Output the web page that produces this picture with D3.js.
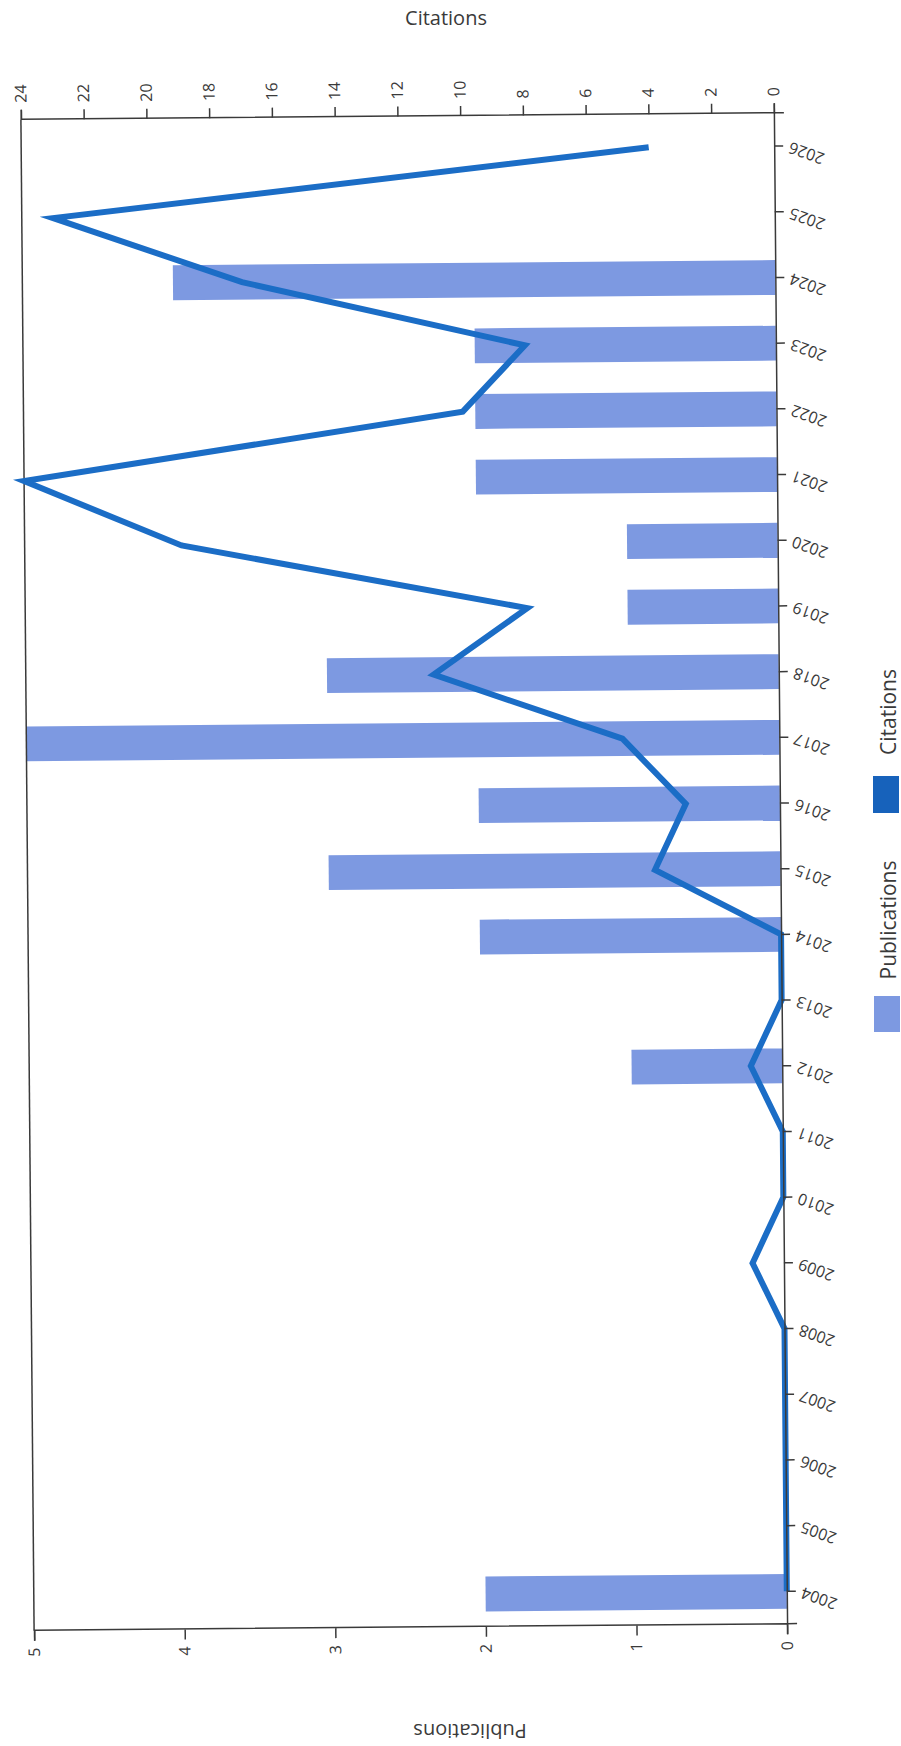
<!DOCTYPE html>
<html>
<head>
<meta charset="utf-8">
<script src="https://cdn.jsdelivr.net/npm/d3@7"></script>
<style>
  body { margin: 0; background: #ffffff; }
  svg { display: block; }
  text { font-family: "Open Sans", "Noto Sans", sans-serif; }
</style>
</head>
<body>
<svg id="chart" width="901" height="1746"></svg>
<script>
// ---- data ----
const years = [2004, 2005, 2006, 2007, 2008, 2009, 2010, 2011, 2012, 2013, 2014, 2015,
               2016, 2017, 2018, 2019, 2020, 2021, 2022, 2023, 2024, 2025, 2026];
const publications = [2, 0, 0, 0, 0, 0, 0, 0, 1, 0, 2, 3, 2, 5, 3, 1, 1, 2, 2, 2, 4, 0, 0];
const citations    = [0, 0, 0, 0, 0, 1, 0, 0, 1, 0, 0, 4, 3, 5, 11, 8, 19, 24, 10, 8, 17, 23, 4];
const pubTicks = [0, 1, 2, 3, 4, 5];
const citTicks = [0, 2, 4, 6, 8, 10, 12, 14, 16, 18, 20, 22, 24];
const seriesNames = ["Publications", "Citations"];

// ---- layout (chart is drawn normally, then turned a quarter turn) ----
const W = 1511, H = 753;
const cx = 404, cy = 872;
const barColor = "#7d99e1", lineColor = "#1b6dc6", swatchCit = "#1762bb";
const axisColor = "#3a3a3a", textColor = "#3a3a3a";

const svg = d3.select("#chart");
const g = svg.append("g")
  .attr("transform", `translate(${cx},${cy}) rotate(-90.5) translate(${-W / 2},${-H / 2})`);

const x = d3.scaleBand().domain(years).range([0, W]).paddingInner(0.47).paddingOuter(0.235);
const yP = d3.scaleLinear().domain([0, 5]).range([H, 0]);
const yC = d3.scaleLinear().domain([0, 24]).range([H, 0]);

// bars
const barData = years.map((yr, i) => ({ yr, v: publications[i] })).filter(d => d.v > 0);
g.selectAll("rect.bar").data(barData).join("rect")
  .attr("class", "bar")
  .attr("x", d => x(d.yr))
  .attr("width", x.bandwidth())
  .attr("y", d => yP(d.v))
  .attr("height", d => yP(0) - yP(d.v))
  .attr("fill", barColor);

// top border of the plot
g.append("line")
  .attr("x1", 0).attr("x2", W).attr("y1", 0).attr("y2", 0)
  .attr("stroke", axisColor).attr("stroke-width", 1.5);

// line
const line = d3.line()
  .x((d, i) => x(years[i]) + x.bandwidth() / 2)
  .y(d => yC(d));
g.append("path").datum(citations)
  .attr("d", line)
  .attr("fill", "none")
  .attr("stroke", lineColor)
  .attr("stroke-width", 6)
  .attr("stroke-linejoin", "miter")
  .attr("stroke-miterlimit", 10);

// axes
function styleAxis(sel) {
  sel.select(".domain").attr("stroke", axisColor).attr("stroke-width", 1.5);
  sel.selectAll(".tick line").attr("stroke", axisColor).attr("stroke-width", 1.5);
  sel.selectAll(".tick text").attr("fill", textColor).style("font-size", "16px")
     .style("font-family", '"Open Sans", "Noto Sans", sans-serif');
}

const xAxis = g.append("g").attr("transform", `translate(0,${H})`)
  .call(d3.axisBottom(x).tickSizeInner(9).tickSizeOuter(10));
styleAxis(xAxis);
xAxis.selectAll(".tick text")
  .attr("x", 0).attr("y", 0).attr("dy", "0.35em")
  .attr("text-anchor", "end")
  .attr("transform", "translate(-1,15) rotate(-70)");

const pAxis = g.append("g")
  .call(d3.axisLeft(yP).tickValues(pubTicks).tickSize(10).tickPadding(7).tickFormat(d3.format("d")));
styleAxis(pAxis);

const cAxis = g.append("g").attr("transform", `translate(${W},0)`)
  .call(d3.axisRight(yC).tickValues(citTicks).tickSize(10).tickPadding(7).tickFormat(d3.format("d")));
styleAxis(cAxis);

// axis titles (screen coordinates)
svg.append("text")
  .attr("x", 446).attr("y", 25)
  .attr("text-anchor", "middle")
  .attr("fill", textColor).style("font-size", "20px")
  .text(seriesNames[1]);

svg.append("text")
  .attr("text-anchor", "middle")
  .attr("dominant-baseline", "central")
  .attr("transform", "translate(470,1731) rotate(180)")
  .attr("fill", textColor).style("font-size", "20px")
  .text(seriesNames[0]);

// legend (screen coordinates)
const legend = svg.append("g");
legend.append("rect").attr("x", 874).attr("y", 996).attr("width", 26).attr("height", 36).attr("fill", barColor);
legend.append("text")
  .attr("text-anchor", "middle")
  .attr("transform", "translate(896,920) rotate(-90)")
  .attr("fill", textColor).style("font-size", "21px")
  .text(seriesNames[0]);
legend.append("rect").attr("x", 873).attr("y", 776).attr("width", 26).attr("height", 37).attr("fill", swatchCit);
legend.append("text")
  .attr("text-anchor", "middle")
  .attr("transform", "translate(896,712) rotate(-90)")
  .attr("fill", textColor).style("font-size", "21px")
  .text(seriesNames[1]);
</script>
</body>
</html>
